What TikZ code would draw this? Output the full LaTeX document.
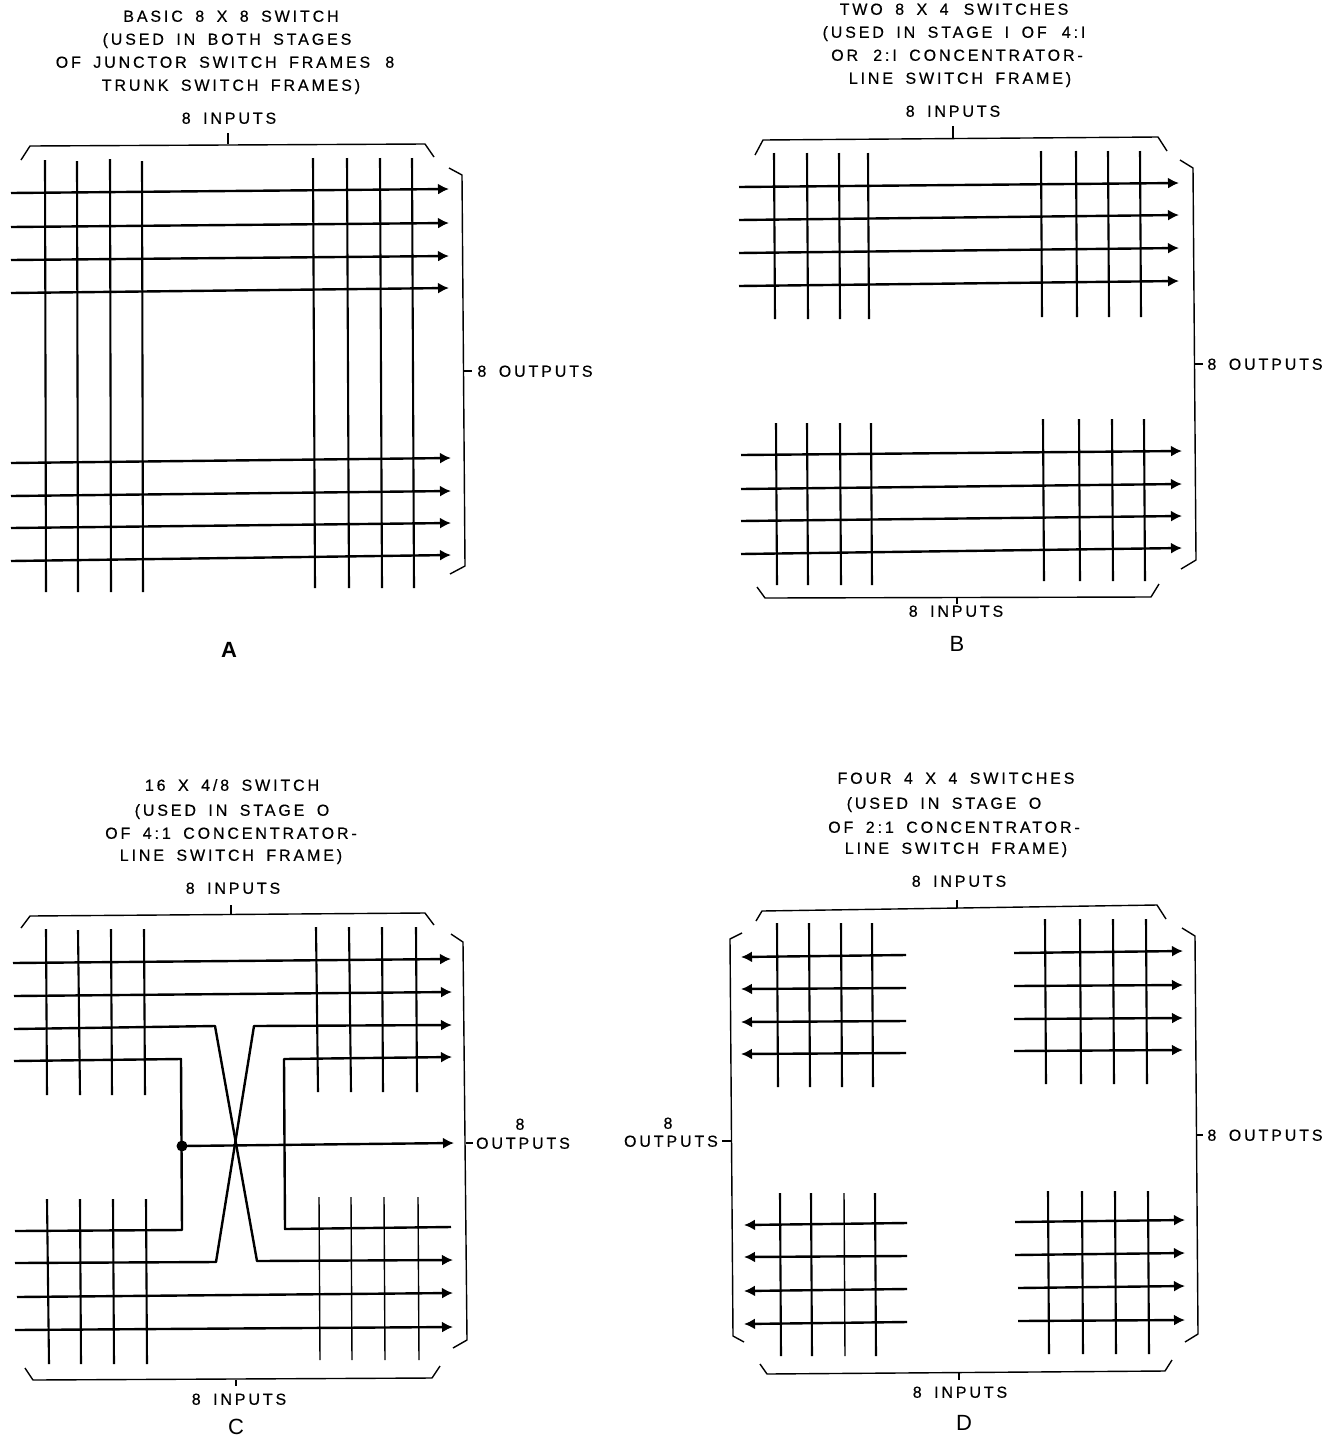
\documentclass[tikz,border=0pt]{standalone}
\usepackage{fontspec}
\setmainfont[LetterSpace=18,WordSpace=1.7,FakeBold=0.5]{Liberation Sans}
\newfontfamily\bigfont{Liberation Sans}
\usetikzlibrary{arrows.meta}
\tikzset{
	vwire/.style={line width=2.1pt},
	hwire/.style={line width=2.4pt,line join=round},
	thinwire/.style={line width=1.4pt},
	outwire/.style={hwire,-{Latex[length=11pt,width=11pt]}},
	inwire/.style={hwire,{Latex[length=11pt,width=11pt]}-},
	brace/.style={line width=1.4pt,line join=round},
	lbl/.style={font=\fontsize{16}{19}\selectfont,inner sep=0pt,text height=11.5pt,text depth=0pt},
	panel/.style={font=\bigfont\fontsize{22}{25}\selectfont,inner sep=0pt}
}
\begin{document}
\begin{tikzpicture}[x=1pt,y=-1pt]
	\useasboundingbox (0,0) rectangle (1340,1438);

	\node[lbl] (titleA1) at (231,16) {BASIC 8 X 8 SWITCH};
	\node[lbl] (titleA2) at (227,39) {(USED IN BOTH STAGES};
	\node[lbl] (titleA3) at (225,62) {OF JUNCTOR SWITCH FRAMES \,8};
	\node[lbl] (titleA4) at (231,85) {TRUNK SWITCH FRAMES)};
	\node[lbl] (inA) at (229,118) {8 INPUTS};
	\node[lbl] (outA) at (535,371) {8 OUTPUTS};
	\node[panel] (nameA) at (229,650) {\bfseries A};

	\draw[brace] (21,160) -- (30,146) -- (425,144) -- (434,157);
	\draw[brace] (228,144) -- (228,133);
	\draw[brace] (449,168) -- (462,175) -- (465,566) -- (450,574);
	\draw[brace] (464,371) -- (472,371);

	\draw[vwire] (45,160) -- (46,592);
	\draw[vwire] (77,161) -- (78,592);
	\draw[vwire] (110,159) -- (111,592);
	\draw[vwire] (142,161) -- (143,592);
	\draw[vwire] (313,158) -- (315,588);
	\draw[vwire] (347,158) -- (349,588);
	\draw[vwire] (380,158) -- (382,588);
	\draw[vwire] (412,158) -- (414,588);

	\draw[outwire] (11,193) -- (449,189);
	\draw[outwire] (11,227) -- (449,223);
	\draw[outwire] (11,260) -- (449,256);
	\draw[outwire] (11,293) -- (449,288);
	\draw[outwire] (11,463) -- (451,458);
	\draw[outwire] (11,496) -- (451,491);
	\draw[outwire] (11,528) -- (451,523);
	\draw[outwire] (11,561) -- (451,555);

	\node[lbl] (titleB1) at (954,9) {TWO 8 X 4 \,SWITCHES};
	\node[lbl] (titleB2) at (954,32) {(USED IN STAGE I OF \,4:I};
	\node[lbl] (titleB3) at (957,55) {OR \,2:I CONCENTRATOR-};
	\node[lbl] (titleB4) at (960,78) {LINE SWITCH FRAME)};
	\node[lbl] (inB1) at (953,111) {8 INPUTS};
	\node[lbl] (inB2) at (956,611) {8 INPUTS};
	\node[lbl] (outB) at (1265,364) {8 OUTPUTS};
	\node[panel] (nameB) at (957,644) {B};

	\draw[brace] (755,155) -- (763,140) -- (1158,137) -- (1167,151);
	\draw[brace] (953,138) -- (953,126);
	\draw[brace] (1180,160) -- (1193,168) -- (1196,560) -- (1181,569);
	\draw[brace] (1195,364) -- (1203,364);
	\draw[brace] (757,587) -- (765,598) -- (1151,597) -- (1159,584);
	\draw[brace] (957,598) -- (957,604);

	\draw[vwire] (774,153) -- (775,319);
	\draw[vwire] (807,153) -- (808,319);
	\draw[vwire] (839,153) -- (840,319);
	\draw[vwire] (868,153) -- (869,319);
	\draw[vwire] (1041,151) -- (1042,317);
	\draw[vwire] (1076,151) -- (1077,317);
	\draw[vwire] (1108,151) -- (1109,317);
	\draw[vwire] (1140,151) -- (1141,317);
	\draw[vwire] (776,423) -- (777,585);
	\draw[vwire] (807,423) -- (808,585);
	\draw[vwire] (840,423) -- (841,585);
	\draw[vwire] (871,423) -- (872,585);
	\draw[vwire] (1043,419) -- (1044,581);
	\draw[vwire] (1079,419) -- (1080,581);
	\draw[vwire] (1112,419) -- (1113,581);
	\draw[vwire] (1144,419) -- (1145,581);

	\draw[outwire] (739,187) -- (1179,183);
	\draw[outwire] (739,220) -- (1179,215);
	\draw[outwire] (739,253) -- (1179,248);
	\draw[outwire] (739,286) -- (1179,281);
	\draw[outwire] (741,455) -- (1182,451);
	\draw[outwire] (741,489) -- (1182,484);
	\draw[outwire] (741,521) -- (1182,516);
	\draw[outwire] (741,554) -- (1182,548);

	\node[lbl] (titleC1) at (232,785) {16 X 4/8 SWITCH};
	\node[lbl] (titleC2) at (232,810) {(USED IN STAGE O};
	\node[lbl] (titleC3) at (231,833) {OF 4:1 CONCENTRATOR-};
	\node[lbl] (titleC4) at (231,855) {LINE SWITCH FRAME)};
	\node[lbl] (inC1) at (233,888) {8 INPUTS};
	\node[lbl] (inC2) at (239,1399) {8 INPUTS};
	\node[lbl] (outC1) at (520,1124) {8};
	\node[lbl] (outC2) at (523,1143) {OUTPUTS};
	\node[panel] (nameC) at (236,1427) {C};

	\draw[brace] (21,928) -- (30,916) -- (425,913) -- (434,925);
	\draw[brace] (231,905) -- (231,914);
	\draw[brace] (451,934) -- (463,942) -- (467,1340) -- (453,1348);
	\draw[brace] (466,1143) -- (473,1143);
	\draw[brace] (25,1368) -- (33,1380) -- (432,1378) -- (440,1366);
	\draw[brace] (236,1380) -- (236,1386);

	\draw[vwire] (46,929) -- (47,1095);
	\draw[vwire] (78,930) -- (80,1095);
	\draw[vwire] (111,929) -- (112,1095);
	\draw[vwire] (144,929) -- (145,1095);
	\draw[vwire] (316,927) -- (318,1092);
	\draw[vwire] (349,927) -- (351,1092);
	\draw[vwire] (382,927) -- (383,1092);
	\draw[vwire] (416,927) -- (417,1092);
	\draw[vwire] (47,1199) -- (49,1364);
	\draw[vwire] (80,1199) -- (81,1364);
	\draw[vwire] (113,1199) -- (114,1364);
	\draw[vwire] (146,1199) -- (147,1364);
	\draw[thinwire] (319,1197) -- (320,1360);
	\draw[thinwire] (351,1197) -- (352,1360);
	\draw[thinwire] (384,1197) -- (385,1360);
	\draw[thinwire] (418,1197) -- (419,1360);

	\draw[outwire] (13,963) -- (451,959);
	\draw[outwire] (14,996) -- (452,992);
	\draw[outwire] (14,1029) -- (215,1026) -- (257,1261) -- (453,1260);
	\draw[outwire] (15,1263) -- (216,1262) -- (254,1026) -- (452,1025);
	\draw[hwire] (14,1061) -- (181,1059) -- (182,1230) -- (15,1231);
	\draw[outwire] (451,1227) -- (285,1229) -- (284,1059) -- (452,1057);
	\draw[outwire] (182,1146) -- (454,1143);
	\draw[outwire] (17,1297) -- (453,1293);
	\draw[outwire] (15,1330) -- (453,1327);
	\fill (182,1146) circle (5.5);

	\node[lbl] (titleD1) at (956,778) {FOUR 4 X 4 SWITCHES};
	\node[lbl] (titleD2) at (944,803) {(USED IN STAGE O};
	\node[lbl] (titleD3) at (954,827) {OF 2:1 CONCENTRATOR-};
	\node[lbl] (titleD4) at (956,848) {LINE SWITCH FRAME)};
	\node[lbl] (inD1) at (959,881) {8 INPUTS};
	\node[lbl] (inD2) at (960,1392) {8 INPUTS};
	\node[lbl] (outD1) at (668,1123) {8};
	\node[lbl,anchor=east] (outD2) at (718,1141) {OUTPUTS};
	\node[lbl] (outD3) at (1265,1135) {8 OUTPUTS};
	\node[panel] (nameD) at (964,1423) {D};

	\draw[brace] (756,921) -- (762,911) -- (1157,905) -- (1166,919);
	\draw[brace] (957,900) -- (957,908);
	\draw[brace] (742,933) -- (730,939) -- (733,1336) -- (744,1342);
	\draw[brace] (722,1141) -- (731,1141);
	\draw[brace] (1182,928) -- (1195,936) -- (1198,1334) -- (1185,1342);
	\draw[brace] (1197,1135) -- (1203,1135);
	\draw[brace] (760,1364) -- (767,1374) -- (1165,1371) -- (1172,1360);
	\draw[brace] (959,1373) -- (959,1380);

	\draw[vwire] (777,923) -- (778,1087);
	\draw[vwire] (809,923) -- (810,1087);
	\draw[vwire] (841,923) -- (842,1087);
	\draw[vwire] (872,923) -- (873,1087);
	\draw[vwire] (1045,919) -- (1046,1084);
	\draw[vwire] (1080,919) -- (1081,1084);
	\draw[vwire] (1113,919) -- (1114,1084);
	\draw[vwire] (1146,919) -- (1147,1084);
	\draw[vwire] (780,1193) -- (781,1356);
	\draw[vwire] (811,1193) -- (812,1356);
	\draw[thinwire] (844,1193) -- (845,1356);
	\draw[vwire] (875,1193) -- (876,1356);
	\draw[vwire] (1048,1191) -- (1049,1354);
	\draw[vwire] (1082,1191) -- (1083,1354);
	\draw[vwire] (1115,1191) -- (1116,1354);
	\draw[vwire] (1148,1191) -- (1149,1354);

	\draw[inwire] (741,957) -- (906,955);
	\draw[inwire] (741,989) -- (906,988);
	\draw[inwire] (741,1022) -- (906,1021);
	\draw[inwire] (741,1054) -- (906,1053);
	\draw[outwire] (1014,953) -- (1183,951);
	\draw[outwire] (1014,986) -- (1183,985);
	\draw[outwire] (1014,1019) -- (1183,1018);
	\draw[outwire] (1014,1051) -- (1183,1050);
	\draw[inwire] (744,1225) -- (907,1223);
	\draw[inwire] (744,1257) -- (907,1256);
	\draw[inwire] (744,1291) -- (907,1289);
	\draw[inwire] (744,1324) -- (907,1322);
	\draw[outwire] (1015,1222) -- (1185,1220);
	\draw[outwire] (1015,1255) -- (1185,1253);
	\draw[outwire] (1018,1288) -- (1185,1286);
	\draw[outwire] (1018,1321) -- (1185,1320);
\end{tikzpicture}
\end{document}
